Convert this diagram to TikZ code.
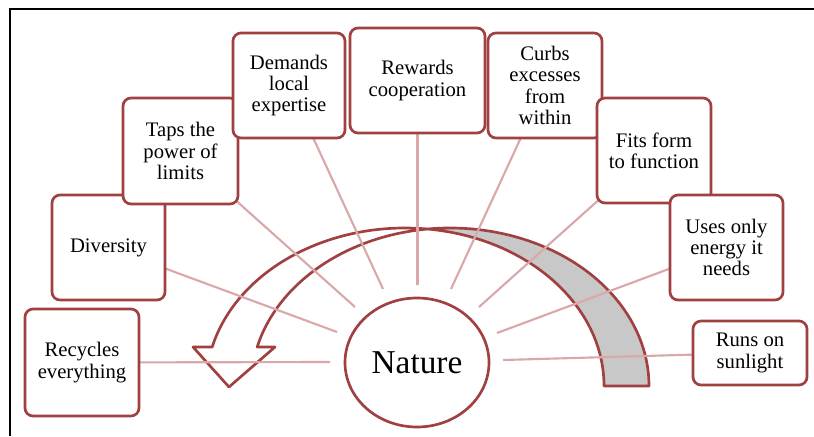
\documentclass[tikz,border=0pt]{standalone}
\usepackage{fontspec}
\setmainfont{Liberation Serif}
\usetikzlibrary{backgrounds,shapes.geometric}
\definecolor{boxred}{RGB}{160,64,64}
\definecolor{spokecol}{RGB}{218,168,168}
\definecolor{bandgrey}{RGB}{200,200,200}
\begin{document}
\begin{tikzpicture}[x=0.75pt,y=-0.75pt,
  card/.style={draw=boxred, line width=2pt, fill=white, rounded corners=6pt,
    align=center, inner sep=0pt, font=\fontsize{15.5}{16}\selectfont},
  hub/.style={ellipse, draw=boxred, line width=2pt, fill=white, inner sep=0pt,
    minimum width=108pt, minimum height=96.75pt, font=\fontsize{25}{30}\selectfont},
  spoke/.style={draw=spokecol, line width=1.6pt},
  band/.style={draw=boxred, line width=2pt, line join=round},
  frame/.style={draw=black, line width=2pt}]
\useasboundingbox (0,0) rectangle (814,436);
\draw[frame] (10,436) -- (10,9) -- (814,9);

% hub
\node[hub] (nat) at (417,362.5) {Nature};

% cards in stacking order
\node[card, minimum width=85.5pt,  minimum height=80.25pt] (b1) at (82,362.5) {Recycles\\everything};
\node[card, minimum width=84.75pt, minimum height=78.75pt] (b2) at (108.5,247.5) {Diversity};
\node[card, minimum width=86.25pt, minimum height=79.5pt]  (b3) at (180.5,151) {Taps the\\power of\\limits};
\node[card, minimum width=84pt,    minimum height=78.75pt] (b4) at (289,85.5) {Demands\\local\\expertise};
\node[card, minimum width=101.25pt,minimum height=78.75pt] (b5) at (417.5,80.5) {Rewards\\cooperation};
\node[card, minimum width=85.5pt,  minimum height=78.75pt] (b6) at (545,85.5) {Curbs\\excesses\\from\\within};
\node[card, minimum width=85.5pt,  minimum height=78.75pt] (b7) at (654,150.5) {Fits form\\to function};
\node[card, minimum width=84.75pt, minimum height=78.75pt] (b8) at (726.5,247.5) {Uses only\\energy it\\needs};
\node[card, minimum width=85.5pt,  minimum height=48pt]    (b9) at (750,353) {Runs on\\sunlight};

% inner ends of spokes
\coordinate (i1) at (330,362);
\coordinate (i2) at (337,332);
\coordinate (i3) at (355,307);
\coordinate (i4) at (383,289);
\coordinate (i5) at (417.5,285);
\coordinate (i6) at (451,289);
\coordinate (i7) at (479,307);
\coordinate (i8) at (497,333);
\coordinate (i9) at (503,360);

\begin{scope}[on background layer]
  % curved arrow: front (white) band with head
  \draw[band, fill=white] (212.2,347)
    arc[start angle=194.29, end angle=276.49, x radius=199, y radius=158]
    arc[start angle=263.51, end angle=194.29, x radius=199, y radius=158]
    -- (275,347) -- (229,387) -- (193,347) -- cycle;
  % back (grey) band
  \draw[band, fill=bandgrey] (427.5,229)
    arc[start angle=263.51, end angle=360, x radius=199, y radius=158]
    -- (604,386)
    arc[start angle=360, end angle=276.49, x radius=199, y radius=158]
    -- cycle;
  % spokes
  \foreach \k in {1,...,9} {\draw[spoke] (i\k) -- (b\k.center);}
\end{scope}
\end{tikzpicture}
\end{document}
